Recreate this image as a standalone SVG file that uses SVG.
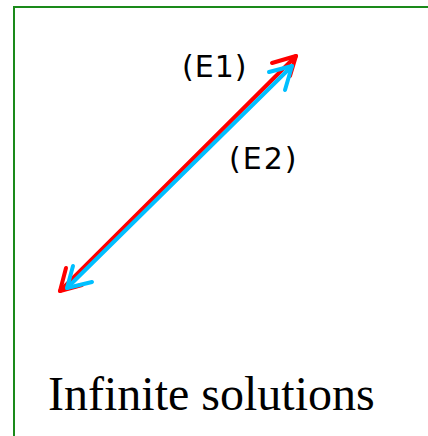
<svg xmlns="http://www.w3.org/2000/svg" width="428" height="436" viewBox="0 0 428 436">
<style>
.hand{font-family:"DejaVu Sans","Liberation Sans",sans-serif;font-size:30px;fill:#000}
.red{stroke:#ff0000;stroke-width:4;fill:none;stroke-linecap:round;stroke-linejoin:round}
.blue{stroke:#00bfff;stroke-width:4;fill:none;stroke-linecap:round;stroke-linejoin:round}
</style>
<rect width="428" height="436" fill="#fff"/>
<path d="M14,440 L14,7 L430,7" fill="none" stroke="#1a8a1a" stroke-width="2"/>
<g id="connectors">
<g id="e1">
<path class="red" d="M60,291 L296,56"/>
<path class="red" d="M272,63 L296,56 L290,76"/>
<path class="red" d="M66,268 L60,291 L82,285"/>
</g>
<g id="e2">
<path class="blue" d="M67,288 L292,66"/>
<path class="blue" d="M269,72 L292,66 L285,90"/>
<path class="blue" d="M73,266 L67,288 L92,282"/>
</g>
</g>
<g id="label-e1"><text class="hand" x="182" y="77" letter-spacing="1">(E1)</text></g>
<g id="label-e2"><text class="hand" x="229" y="169" letter-spacing="2">(E2)</text></g>
<g id="caption"><text x="48" y="410" font-family="'Liberation Serif',serif" font-size="48" fill="#000">Infinite solutions</text></g>
</svg>
